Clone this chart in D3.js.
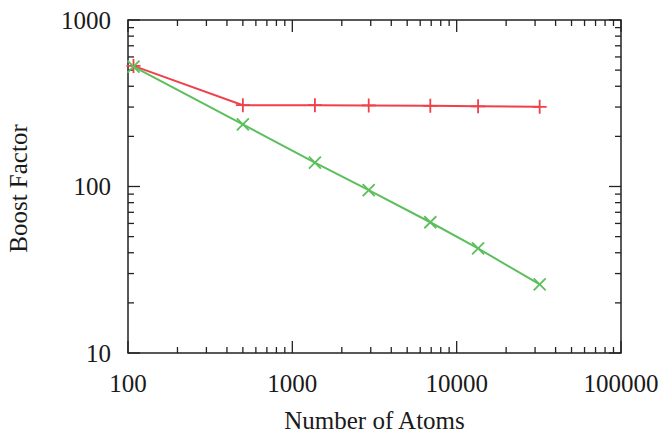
<!DOCTYPE html>
<html>
<head>
<meta charset="utf-8">
<script src="https://cdn.jsdelivr.net/npm/d3@7"></script>
<style>
  body { margin: 0; background: #fff; }
  text { font-family: "Liberation Serif", "DejaVu Serif", serif; fill: #1a1a1a; }
</style>
</head>
<body>
<div id="chart"></div>
<script>
// number of atoms (x) and boost factor for each series
var atoms = [108, 500, 1372, 2916, 6912, 13500, 32000];
var boostA = [530, 308, 308, 307, 305, 303, 301];
var boostB = [525, 236, 139, 95, 61, 42.5, 25.8];
var xTicks = [100, 1000, 10000, 100000];
var yTicks = [10, 100, 1000];

var width = 666,
  height = 436;
var margin = { top: 20, right: 45, bottom: 83, left: 128 };
var graphWidth = width - margin.left - margin.right,
  graphHeight = height - margin.top - margin.bottom;

var svg = d3.select("#chart").append("svg").attr("width", width).attr("height", height);
var graph = svg.append("g").attr("transform", "translate(" + margin.left + "," + margin.top + ")");

var x = d3.scaleLog().domain([100, 100000]).range([0, graphWidth]);
var y = d3.scaleLog().domain([10, 1000]).range([graphHeight, 0]);

// minor ticks: 2..9 in every decade
function minors(domain) {
  var out = [];
  for (var p = Math.log10(domain[0]); p < Math.log10(domain[1]); p++) {
    for (var m = 2; m < 10; m++) out.push(m * Math.pow(10, p));
  }
  return out;
}

var tickColor = "#222";
var ticks = graph.append("g").attr("stroke", tickColor).attr("stroke-width", 1.3);
function addTicks(vals, len) {
  vals.forEach(function (v) {
    var px = x(v);
    ticks.append("line").attr("x1", px).attr("x2", px).attr("y1", graphHeight).attr("y2", graphHeight - len);
    ticks.append("line").attr("x1", px).attr("x2", px).attr("y1", 0).attr("y2", len);
  });
}
function addYTicks(vals, len) {
  vals.forEach(function (v) {
    var py = y(v);
    ticks.append("line").attr("x1", 0).attr("x2", len).attr("y1", py).attr("y2", py);
    ticks.append("line").attr("x1", graphWidth).attr("x2", graphWidth - len).attr("y1", py).attr("y2", py);
  });
}
addTicks(minors(x.domain()), 6);
addTicks(xTicks, 12);
addYTicks(minors(y.domain()), 6);
addYTicks(yTicks, 12);

graph
  .append("rect")
  .attr("width", graphWidth)
  .attr("height", graphHeight)
  .attr("fill", "none")
  .attr("stroke", tickColor)
  .attr("stroke-width", 1.5);

// tick labels
graph
  .append("g")
  .selectAll("text")
  .data(xTicks)
  .enter()
  .append("text")
  .attr("x", function (d) { return x(d); })
  .attr("y", graphHeight + 39)
  .attr("text-anchor", "middle")
  .style("font-size", "25px")
  .text(function (d) { return d; });

graph
  .append("g")
  .selectAll("text")
  .data(yTicks)
  .enter()
  .append("text")
  .attr("x", -17)
  .attr("y", function (d) { return y(d); })
  .attr("dy", "0.34em")
  .attr("text-anchor", "end")
  .style("font-size", "25px")
  .text(function (d) { return d; });

var series = [
  { values: boostA, color: "#f0404a", marker: "plus" },
  { values: boostB, color: "#5cbf5c", marker: "cross" },
];

var line = d3
  .line()
  .x(function (d) { return x(d[0]); })
  .y(function (d) { return y(d[1]); });

series.forEach(function (s) {
  var pts = atoms.map(function (a, i) { return [a, s.values[i]]; });
  graph
    .append("path")
    .datum(pts)
    .attr("d", line)
    .attr("fill", "none")
    .attr("stroke", s.color)
    .attr("stroke-width", 2);
  var r = s.marker === "plus" ? 7 : 6;
  var path = s.marker === "plus"
    ? "M" + -r + ",0H" + r + "M0," + -r + "V" + r
    : "M" + -r + "," + -r + "L" + r + "," + r + "M" + -r + "," + r + "L" + r + "," + -r;
  graph
    .append("g")
    .selectAll("path")
    .data(pts)
    .enter()
    .append("path")
    .attr("transform", function (d) { return "translate(" + x(d[0]) + "," + y(d[1]) + ")"; })
    .attr("d", path)
    .attr("fill", "none")
    .attr("stroke", s.color)
    .attr("stroke-width", 1.8);
});

// axis titles
svg
  .append("text")
  .attr("x", margin.left + graphWidth / 2)
  .attr("y", 429)
  .attr("text-anchor", "middle")
  .style("font-size", "25px")
  .text("Number of Atoms");

svg
  .append("text")
  .attr("transform", "translate(27," + (margin.top + graphHeight / 2 + 2) + ") rotate(-90)")
  .attr("text-anchor", "middle")
  .style("font-size", "25px")
  .text("Boost Factor");
</script>
</body>
</html>
